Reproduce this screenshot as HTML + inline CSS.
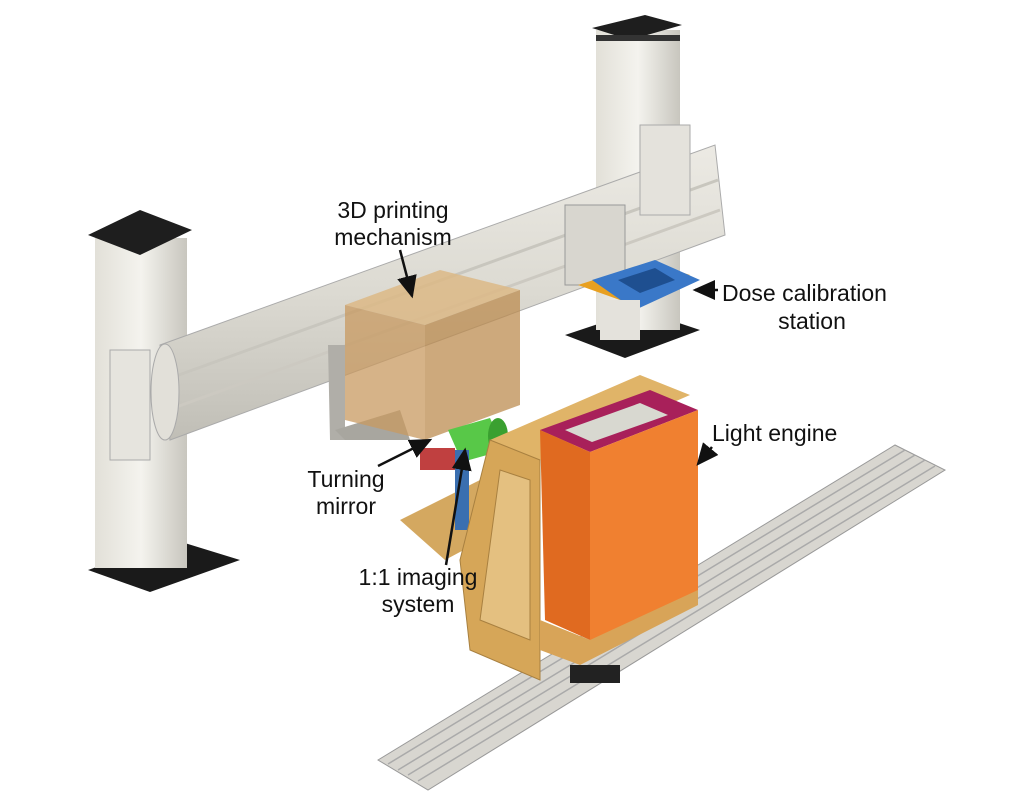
<!DOCTYPE html>
<html><head><meta charset="utf-8"><style>
html,body{margin:0;padding:0;background:#fff;width:1024px;height:800px;overflow:hidden}
text{font-family:"Liberation Sans",sans-serif;font-size:23px;fill:#111}
</style></head><body>
<svg width="1024" height="800" viewBox="0 0 1024 800">
<defs>
<marker id="a" markerWidth="10" markerHeight="10" refX="8" refY="5" orient="auto"><path d="M0,1 L9,5 L0,9 z" fill="#111"/></marker>
<linearGradient id="col" x1="0" x2="1"><stop offset="0" stop-color="#e2e0d8"/><stop offset=".5" stop-color="#f4f3ee"/><stop offset="1" stop-color="#c8c6be"/></linearGradient>
<linearGradient id="beam" x1="0" y1="0" x2="0" y2="1"><stop offset="0" stop-color="#eceae4"/><stop offset=".5" stop-color="#dcdad2"/><stop offset="1" stop-color="#c0beb6"/></linearGradient>
</defs>
<polygon points="378,760 895,445 945,470 428,790" fill="#d8d6d0" stroke="#999" stroke-width="1"/>
<g stroke="#aaa" stroke-width="1.5"><line x1="388" y1="764" x2="905" y2="450"/><line x1="398" y1="770" x2="915" y2="455"/><line x1="408" y1="775" x2="925" y2="460"/><line x1="418" y1="781" x2="935" y2="466"/></g>
<polygon points="565,335 640,310 700,330 625,358" fill="#1a1a1a"/>
<rect x="596" y="30" width="84" height="300" fill="url(#col)"/>
<polygon points="592,28 645,15 682,25 630,40" fill="#1e1e1e"/>
<rect x="596" y="35" width="84" height="6" fill="#333"/>
<polygon points="88,570 175,540 240,560 150,592" fill="#1a1a1a"/>
<rect x="95" y="238" width="92" height="330" fill="url(#col)"/>
<polygon points="88,235 140,210 192,230 140,255" fill="#1e1e1e"/>
<polygon points="160,345 715,145 725,235 170,440" fill="url(#beam)" stroke="#aaa"/>
<line x1="165" y1="380" x2="718" y2="180" stroke="#c8c6be" stroke-width="3"/>
<line x1="168" y1="410" x2="720" y2="210" stroke="#ccc9c1" stroke-width="3"/>
<ellipse cx="165" cy="392" rx="14" ry="48" fill="#e2e0d9" stroke="#aaa"/>
<rect x="110" y="350" width="40" height="110" fill="#e6e4de" stroke="#aaa"/>
<rect x="640" y="125" width="50" height="90" fill="#e4e2dc" stroke="#aaa"/>
<rect x="565" y="205" width="60" height="80" fill="#d8d6cf" stroke="#999"/>
<polygon points="578,285 650,262 690,275 620,300" fill="#e8a020"/>
<polygon points="592,280 655,260 700,280 635,310" fill="#3a78c8"/>
<polygon points="618,280 655,268 675,280 640,293" fill="#1e4f90"/>
<rect x="600" y="300" width="40" height="40" fill="#e4e2dc"/>
<polygon points="328,345 345,345 345,440 330,440" fill="#b0aea8"/>
<polygon points="335,430 400,410 410,440 345,440" fill="#a8a69f"/>
<polygon points="345,305 440,270 520,290 425,325" fill="#dcb886" opacity=".85"/>
<polygon points="345,305 425,325 425,440 345,420" fill="#c89a60" opacity=".75"/>
<polygon points="425,325 520,290 520,405 425,440" fill="#bc8c50" opacity=".75"/>
<polygon points="400,520 480,480 520,520 445,560" fill="#d4a860"/>
<polygon points="448,430 490,418 505,450 462,462" fill="#58c848"/>
<ellipse cx="498" cy="436" rx="10" ry="18" fill="#3aa030"/>
<rect x="455" y="450" width="14" height="80" fill="#3a6fb0"/>
<rect x="420" y="448" width="35" height="22" fill="#c04040"/>
<polygon points="490,440 640,375 690,395 540,460" fill="#e0b468"/>
<polygon points="490,440 540,460 540,680 470,650 460,560" fill="#d6a658" stroke="#a88040"/>
<polygon points="500,470 530,480 530,640 480,620" fill="#e4c080" stroke="#a88040"/>
<polygon points="540,430 650,390 698,410 590,452" fill="#a8205a"/>
<polygon points="565,430 640,403 668,415 592,442" fill="#d8d8d0"/>
<polygon points="540,430 590,452 590,640 545,620" fill="#e06a20"/>
<polygon points="590,452 698,410 698,600 590,655" fill="#f08030"/>
<polygon points="540,620 590,640 698,590 698,605 580,665 540,650" fill="#d8a458"/>
<rect x="570" y="665" width="50" height="18" fill="#222"/>
<g stroke="#111" stroke-width="2.5" fill="none">
<line x1="400" y1="250" x2="412" y2="296" marker-end="url(#a)"/>
<line x1="718" y1="290" x2="695" y2="290" marker-end="url(#a)"/>
<line x1="712" y1="447" x2="698" y2="464" marker-end="url(#a)"/>
<line x1="378" y1="466" x2="430" y2="440" marker-end="url(#a)"/>
<line x1="446" y1="565" x2="465" y2="450" marker-end="url(#a)"/>
</g>
<text x="393" y="218" text-anchor="middle">3D printing</text>
<text x="393" y="245" text-anchor="middle">mechanism</text>
<text x="722" y="301">Dose calibration</text>
<text x="812" y="329" text-anchor="middle">station</text>
<text x="712" y="441">Light engine</text>
<text x="346" y="487" text-anchor="middle">Turning</text>
<text x="346" y="514" text-anchor="middle">mirror</text>
<text x="418" y="585" text-anchor="middle">1:1 imaging</text>
<text x="418" y="612" text-anchor="middle">system</text>
</svg>
</body></html>
